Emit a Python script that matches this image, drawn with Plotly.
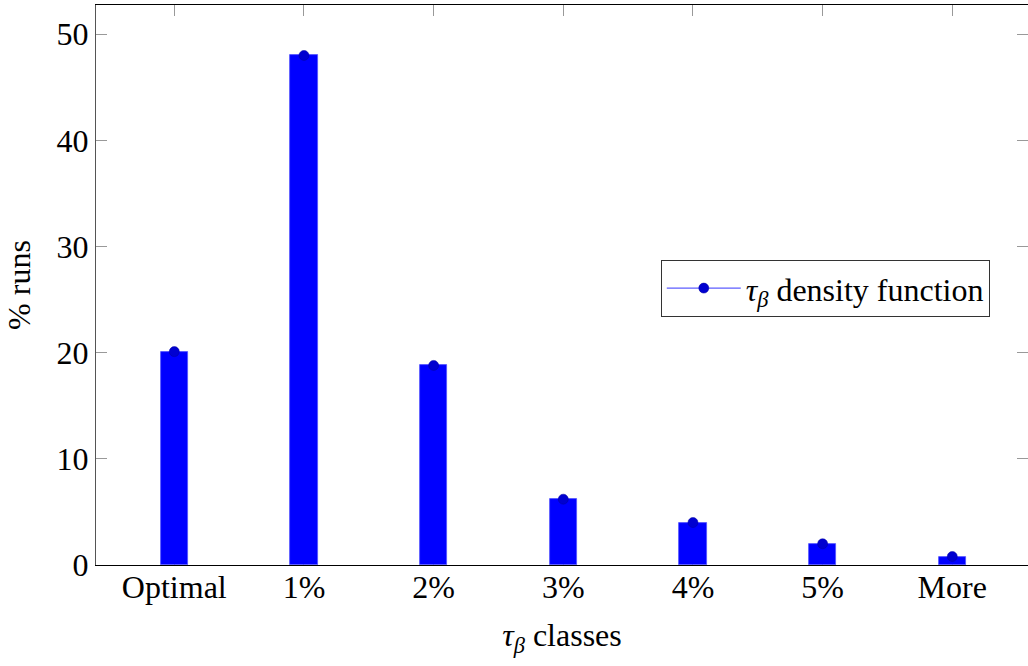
import plotly.graph_objects as go

categories = ["Optimal", "1%", "2%", "3%", "4%", "5%", "More"]
runs_pct = [20.1, 48.0, 18.8, 6.2, 4.0, 2.0, 0.8]
y_ticks = [0, 10, 20, 30, 40, 50]

FONT = "Liberation Serif"
FS = 32
x_idx = list(range(len(categories)))

fig = go.Figure()
fig.add_trace(go.Bar(
    x=x_idx, y=runs_pct, width=0.21,
    marker=dict(color="#0000ff", line=dict(color="#5050ff", width=0.8)),
    showlegend=False, hoverinfo="skip",
))
fig.add_trace(go.Scatter(
    x=x_idx, y=runs_pct, mode="markers",
    marker=dict(color="#0000d0", size=10, line=dict(color="#0000a0", width=0.5)),
    showlegend=False,
))
# legend entry (line + marker as in the reference legend)
fig.add_trace(go.Scatter(
    x=[None], y=[None], mode="lines+markers",
    name="<i>τ</i><sub><i>β</i></sub> density function",
    line=dict(color="#3535ff", width=1),
    marker=dict(color="#0000d0", size=10, line=dict(color="#0000a0", width=0.5)),
))

fig.update_layout(
    width=1028, height=666,
    margin=dict(l=96, r=0, t=5, b=101),
    paper_bgcolor="white", plot_bgcolor="white",
    font=dict(family=FONT, size=FS, color="black"),
    bargap=0,
    legend=dict(
        x=0.606, y=0.545, xanchor="left", yanchor="top",
        bordercolor="#333333", borderwidth=1, bgcolor="white",
        font=dict(family=FONT, size=FS),
        itemwidth=74, tracegroupgap=0,
    ),
    xaxis=dict(
        range=[-0.604, 6.584],
        tickmode="array", tickvals=x_idx, ticktext=categories,
        ticks="inside", ticklen=11, tickwidth=1, tickcolor="#999999",
        ticklabelstandoff=-7,
        showline=True, linecolor="black", linewidth=1.2, mirror="ticks",
        showgrid=False, zeroline=False, layer="below traces",
        tickfont=dict(family=FONT, size=FS),
        title=dict(text="<i>τ</i><sub><i>β</i></sub> classes", standoff=20,
                   font=dict(family=FONT, size=FS)),
    ),
    yaxis=dict(
        range=[0, 52.75],
        tickmode="array", tickvals=y_ticks,
        ticks="inside", ticklen=11, tickwidth=1, tickcolor="#999999",
        showline=True, linecolor="#555555", linewidth=1.2, mirror="ticks",
        showgrid=False, zeroline=False,
        tickfont=dict(family=FONT, size=FS),
        title=dict(text="% runs", standoff=16, font=dict(family=FONT, size=FS)),
    ),
)

fig.write_html("out.html")
